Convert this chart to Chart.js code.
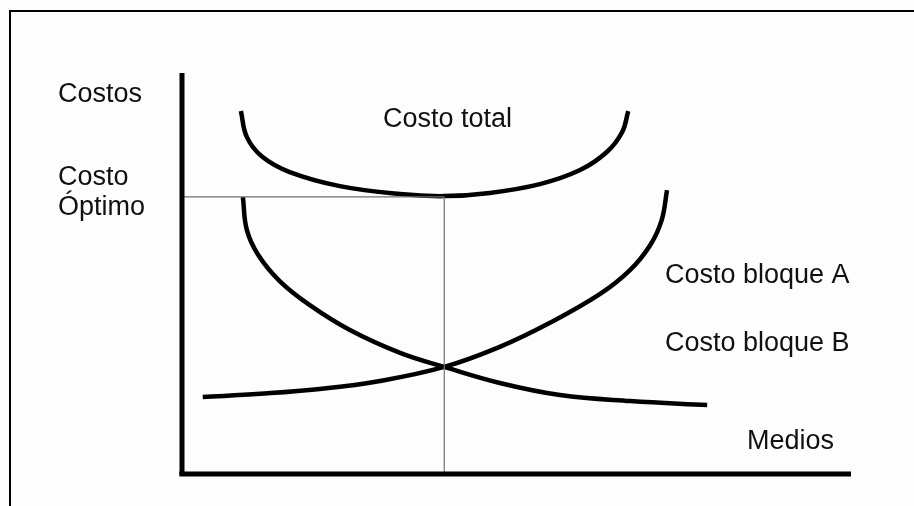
<!DOCTYPE html>
<html>
<head>
<meta charset="utf-8">
<script src="https://cdn.jsdelivr.net/npm/chart.js@4/dist/chart.umd.min.js"></script>
<style>
  html, body { margin: 0; padding: 0; background: #fdfdfd; }
  canvas { display: block; }
</style>
</head>
<body>
<canvas id="c" width="914" height="506"></canvas>
<script>
// ---- Data (x: Medios, y: Costos; arbitrary units 0..100) ----
const costoTotalX = [8.8, 9.7, 12.0, 16.1, 23.6, 32.6, 39.2, 46.0, 53.5, 59.5, 63.5, 65.8, 66.7];
const costoTotalY = [90.5, 84.0, 79.1, 75.3, 71.8, 69.8, 69.3, 70.1, 72.3, 75.8, 80.3, 85.3, 90.5];

const bloqueAX = [9.1, 9.7, 11.4, 14.6, 19.1, 25.1, 32.6, 39.2, 47.5, 56.5, 67.0, 78.5];
const bloqueAY = [69.1, 60.8, 54.6, 48.1, 42.1, 35.9, 30.2, 26.7, 22.7, 19.7, 18.2, 17.2];

const bloqueBX = [3.1, 11.7, 20.6, 29.6, 39.2, 47.5, 55.0, 62.5, 67.0, 70.0, 71.7, 72.5];
const bloqueBY = [19.2, 20.0, 21.2, 23.2, 26.7, 31.7, 37.7, 44.9, 50.9, 57.1, 63.3, 70.8];

const optimoX = 39.2;   // Medios at the optimum
const optimoY = 69.1;   // Costo óptimo

const axisMaxX = 100;
const axisMaxY = 100;

const labelCostos = "Costos";
const labelOptimo = ["Costo", "Óptimo"];
const labelTotal = "Costo total";
const labelA = "Costo bloque A";
const labelB = "Costo bloque B";
const labelMedios = "Medios";

function pts(xs, ys) { return xs.map((x, i) => ({ x: x, y: ys[i] })); }

const curveStyle = {
  showLine: true, pointRadius: 0, borderColor: '#000', borderWidth: 4.5,
  tension: 0.4, cubicInterpolationMode: 'default', clip: false, fill: false
};
const guideStyle = {
  showLine: true, pointRadius: 0, borderColor: '#707070', borderWidth: 1.2,
  tension: 0, clip: false, fill: false
};
const axisStyle = {
  showLine: true, pointRadius: 0, borderColor: '#000', borderWidth: 5,
  tension: 0, clip: false, fill: false
};

const textPlugin = {
  id: 'texts',
  afterDraw(chart) {
    const ctx = chart.ctx;
    ctx.save();
    // frame (top and left borders)
    ctx.strokeStyle = '#000';
    ctx.lineWidth = 2;
    ctx.beginPath();
    ctx.moveTo(10, 506);
    ctx.lineTo(10, 11);
    ctx.lineTo(914, 11);
    ctx.stroke();

    ctx.fillStyle = '#111';
    ctx.font = '27px "Liberation Sans", Arial, sans-serif';
    ctx.textBaseline = 'alphabetic';
    ctx.textAlign = 'left';
    ctx.fillText(labelCostos, 58, 102);
    ctx.fillText(labelOptimo[0], 58, 185);
    ctx.fillText(labelOptimo[1], 58, 215);
    ctx.fillText(labelTotal, 383, 127);
    ctx.fillText(labelA, 665, 283);
    ctx.fillText(labelB, 665, 351);
    ctx.fillText(labelMedios, 747, 449);
    ctx.restore();
  }
};

new Chart(document.getElementById('c'), {
  type: 'scatter',
  data: {
    datasets: [
      Object.assign({ label: 'Eje Y', data: [{ x: 0, y: 0 }, { x: 0, y: axisMaxY }] }, axisStyle),
      Object.assign({ label: 'Eje X', data: [{ x: -0.4, y: 0 }, { x: axisMaxX, y: 0 }] }, axisStyle),
      Object.assign({ label: 'Guía H', data: [{ x: 0.3, y: optimoY }, { x: optimoX, y: optimoY }] }, guideStyle),
      Object.assign({ label: 'Guía V', data: [{ x: optimoX, y: optimoY }, { x: optimoX, y: 0 }] }, guideStyle),
      Object.assign({ label: labelTotal, data: pts(costoTotalX, costoTotalY) }, curveStyle),
      Object.assign({ label: labelA, data: pts(bloqueAX, bloqueAY) }, curveStyle),
      Object.assign({ label: labelB, data: pts(bloqueBX, bloqueBY) }, curveStyle)
    ]
  },
  options: {
    responsive: false,
    animation: false,
    devicePixelRatio: 1,
    layout: { padding: { left: 182, right: 63, top: 73, bottom: 32 } },
    plugins: { legend: { display: false }, tooltip: { enabled: false } },
    scales: {
      x: { type: 'linear', display: false, min: 0, max: axisMaxX },
      y: { type: 'linear', display: false, min: 0, max: axisMaxY }
    }
  },
  plugins: [textPlugin]
});
</script>
</body>
</html>
